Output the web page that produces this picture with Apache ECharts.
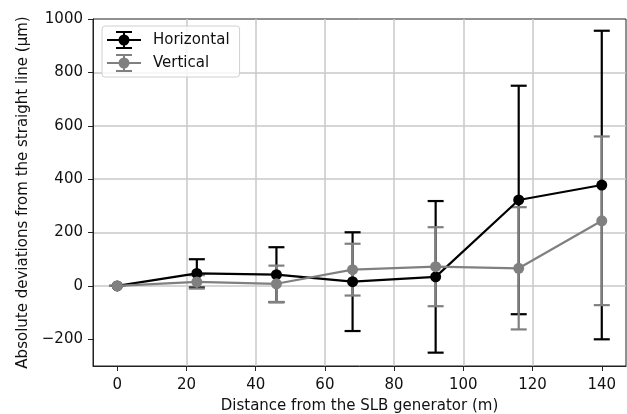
<!DOCTYPE html>
<html lang="en">
<head>
  <meta charset="UTF-8">
  <title>Deviations from the straight line</title>
  <script src="https://cdn.jsdelivr.net/npm/echarts@6/dist/echarts.min.js"></script>
  <style>
    html, body { margin: 0; padding: 0; background: #fff; }
  </style>
</head>
<body>
<div id="main" style="width:627px;height:414px;"></div>
<script type="text/javascript">
  // distance (m) of each measurement point
  var distances = [0, 23, 46, 68, 92, 116, 140];
  // horizontal deviation and its error (um)
  var horizontal = [0, 47, 42, 16, 34, 322, 378];
  var horizontalErr = [0, 53, 103, 185, 284, 428, 578];
  // vertical deviation and its error (um)
  var vertical = [0, 15, 8, 61, 72, 66, 244];
  var verticalErr = [0, 25, 68, 97, 148, 229, 316];

  var xTicks = [0, 20, 40, 60, 80, 100, 120, 140];
  var yTicks = [-200, 0, 200, 400, 600, 800, 1000];

  var font = 'DejaVu Sans';

  function points(vals) {
    return distances.map(function (d, i) { return [d, vals[i]]; });
  }
  function bars(vals, errs) {
    return distances.map(function (d, i) { return [d, vals[i] - errs[i], vals[i] + errs[i]]; });
  }

  // vertical error bar with caps
  function errorBar(color) {
    return function (params, api) {
      var x = api.value(0);
      var lo = api.coord([x, api.value(1)]);
      var hi = api.coord([x, api.value(2)]);
      var cap = 8;
      var st = { stroke: color, lineWidth: 2.2 };
      return {
        type: 'group',
        children: [
          { type: 'line', shape: { x1: lo[0], y1: lo[1], x2: hi[0], y2: hi[1] }, style: st },
          { type: 'line', shape: { x1: lo[0] - cap, y1: lo[1], x2: lo[0] + cap, y2: lo[1] }, style: st },
          { type: 'line', shape: { x1: hi[0] - cap, y1: hi[1], x2: hi[0] + cap, y2: hi[1] }, style: st }
        ]
      };
    };
  }

  // legend icon: line + error bar with caps + round marker (34 x 18 box)
  var ebIcon = 'path://M0 8L34 8L34 10L0 10Z' +
    'M16 0L18 0L18 18L16 18Z' +
    'M9 0L25 0L25 2L9 2Z' +
    'M9 16L25 16L25 18L9 18Z' +
    'M22.5 9A5.5 5.5 0 1 1 11.5 9A5.5 5.5 0 1 1 22.5 9Z';

  var myChart = echarts.init(document.getElementById('main'));

  var option = {
    animation: false,
    textStyle: { fontFamily: font },
    grid: {
      left: 93, right: 1, top: 19, bottom: 48,
      outerBoundsMode: 'none',
      show: true, borderColor: '#222', borderWidth: 1, backgroundColor: 'transparent'
    },
    legend: {
      orient: 'vertical',
      left: 102, top: 26,
      padding: [5, 10, 5, 5],
      itemWidth: 34, itemHeight: 18, itemGap: 5,
      icon: ebIcon,
      itemStyle: { borderWidth: 0 },
      borderColor: '#d0d0d0', borderWidth: 1, borderRadius: 3,
      backgroundColor: 'rgba(255,255,255,0.8)',
      textStyle: { fontFamily: font, fontSize: 15, color: '#111', padding: [0, 0, 0, 7] },
      data: ['Horizontal', 'Vertical']
    },
    xAxis: {
      type: 'value',
      min: -7, max: 147,
      splitNumber: 8, minInterval: 20, maxInterval: 20,
      name: 'Distance from the SLB generator (m)',
      nameLocation: 'middle', nameGap: 33,
      nameTextStyle: { fontFamily: font, fontSize: 15, color: '#111' },
      axisLine: { show: true, onZero: false, lineStyle: { color: '#222', width: 1 } },
      axisTick: { show: true, inside: false, length: 5, customValues: xTicks, lineStyle: { color: '#222', width: 1 } },
      axisLabel: { customValues: xTicks, margin: 12, fontFamily: font, fontSize: 15, color: '#111' },
      splitLine: { show: true, showMinLine: false, showMaxLine: false, lineStyle: { color: '#c8c8c8', width: 1.5 } }
    },
    yAxis: {
      type: 'value',
      min: -300, max: 1000,
      splitNumber: 7, minInterval: 200, maxInterval: 200,
      name: 'Absolute deviations from the straight line (\u00b5m)',
      nameLocation: 'middle', nameGap: 62,
      nameTextStyle: { fontFamily: font, fontSize: 15, color: '#111' },
      axisLine: { show: true, onZero: false, lineStyle: { color: '#222', width: 1 } },
      axisTick: { show: true, inside: false, length: 5, customValues: yTicks, lineStyle: { color: '#222', width: 1 } },
      axisLabel: {
        customValues: yTicks, margin: 10, fontFamily: font, fontSize: 15, color: '#111',
        formatter: function (v) { return String(v).replace('-', '\u2212'); }
      },
      splitLine: { show: true, showMinLine: false, showMaxLine: false, lineStyle: { color: '#c8c8c8', width: 1.5 } }
    },
    series: [
      {
        name: 'Horizontal bars', type: 'custom', z: 2,
        renderItem: errorBar('#000000'),
        encode: { x: 0, y: [1, 2] },
        data: bars(horizontal, horizontalErr)
      },
      {
        name: 'Vertical bars', type: 'custom', z: 3,
        renderItem: errorBar('#808080'),
        encode: { x: 0, y: [1, 2] },
        data: bars(vertical, verticalErr)
      },
      {
        name: 'Horizontal', type: 'line', z: 4,
        symbol: 'circle', symbolSize: 11, showSymbol: true,
        itemStyle: { color: '#000000', borderWidth: 0 },
        lineStyle: { color: '#000000', width: 2.2 },
        data: points(horizontal)
      },
      {
        name: 'Vertical', type: 'line', z: 5,
        symbol: 'circle', symbolSize: 11, showSymbol: true,
        itemStyle: { color: '#808080', borderWidth: 0 },
        lineStyle: { color: '#808080', width: 2.2 },
        data: points(vertical)
      }
    ]
  };

  myChart.setOption(option);
</script>
</body>
</html>
